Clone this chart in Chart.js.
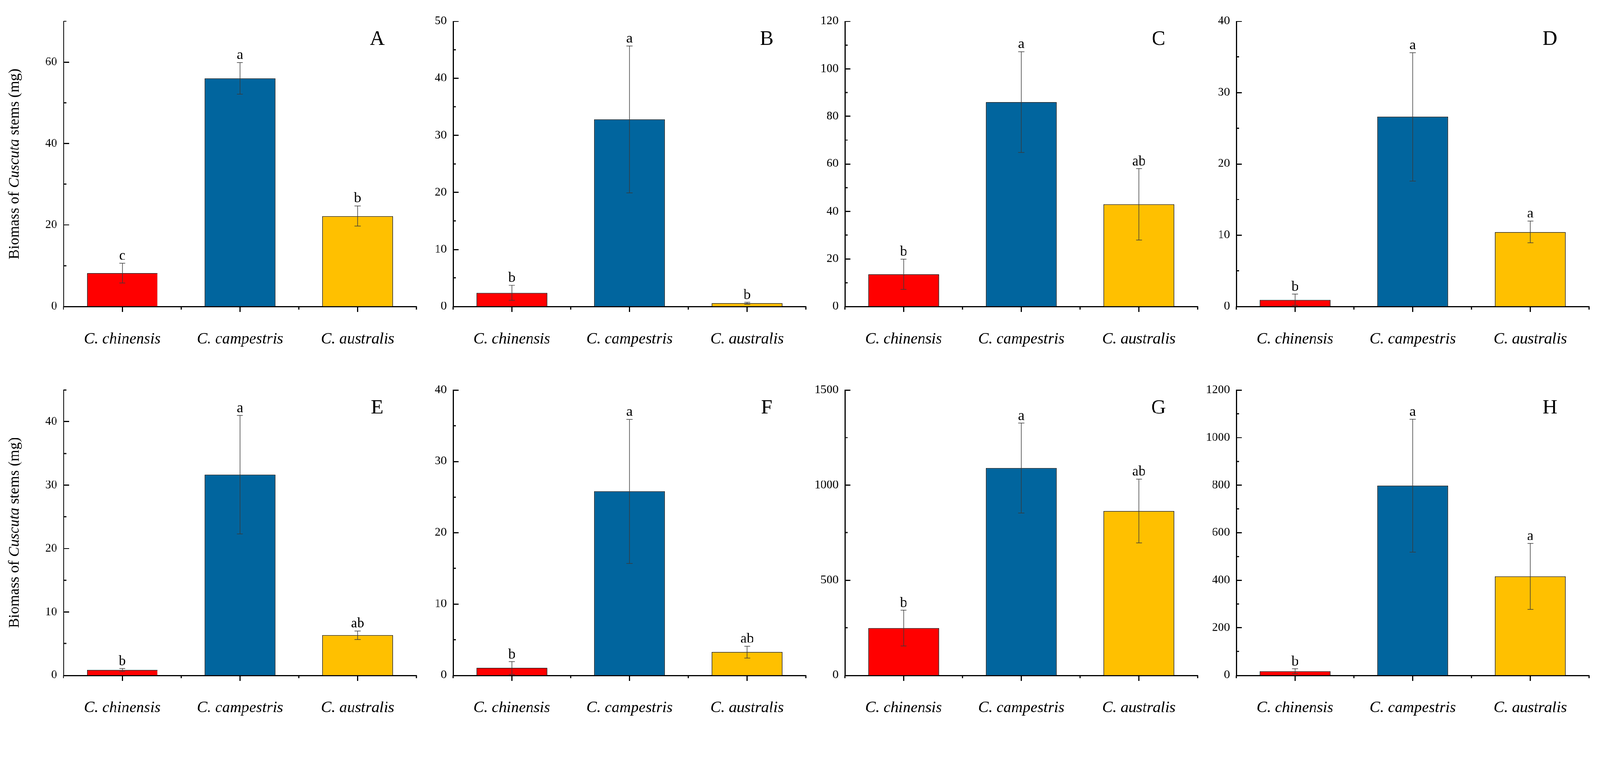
<!DOCTYPE html>
<html>
<head>
<meta charset="utf-8">
<script src="https://cdn.jsdelivr.net/npm/chart.js@4.4.1/dist/chart.umd.min.js"></script>
<style>
  html, body { margin: 0; padding: 0; background: #fff; overflow: hidden; }
  #page { position: absolute; left: 0; top: 0; width: 4284px; height: 1944px; transform-origin: 0 0; background: #fff; }
  canvas { position: absolute; }
</style>
</head>
<body>
<div id="page"></div>
<script>
// Data (biomass of Cuscuta stems, mg)
const species = ['C. chinensis', 'C. campestris', 'C. australis'];
const panelLetters = ['A', 'B', 'C', 'D', 'E', 'F', 'G', 'H'];

const chinensisMean = [8.2, 2.4, 13.6, 0.93, 0.82, 1.02, 248, 17];
const campestrisMean = [56.0, 32.8, 86.0, 26.6, 31.65, 25.8, 1090, 798];
const australisMean = [22.2, 0.55, 43.0, 10.45, 6.32, 3.25, 864, 416];

const chinensisErr = [2.4, 1.3, 6.4, 0.78, 0.22, 0.89, 94, 10];
const campestrisErr = [3.9, 12.9, 21.2, 9.0, 9.35, 10.1, 236, 280];
const australisErr = [2.5, 0.15, 15.0, 1.53, 0.67, 0.82, 168, 139];

const chinensisSig = ['c', 'b', 'b', 'b', 'b', 'b', 'b', 'b'];
const campestrisSig = ['a', 'a', 'a', 'a', 'a', 'a', 'a', 'a'];
const australisSig = ['b', 'b', 'ab', 'a', 'ab', 'ab', 'ab', 'a'];

const yMax = [70, 50, 120, 40, 45, 40, 1500, 1200];
const yMajor = [20, 10, 20, 10, 10, 10, 500, 200];
const yMinor = [10, 5, 10, 5, 5, 5, 250, 100];

const barColors = ['#FF0000', '#01659E', '#FFC000'];

// Layout (in reference pixels)
const colAxisX = [170, 1213, 2262, 3310];
const rowTop = [57, 1045];
const plotH = 764;
const plotW = 945;
const leftW = 170;
const bottomH = 130;

// fit the 4284x1944 page into whatever viewport we get
const page = document.getElementById('page');
const fit = Math.min(window.innerWidth / 4284, window.innerHeight / 1944);
page.style.transform = 'scale(' + fit + ')';

const serif = '"Liberation Serif", "Times New Roman", serif';
Chart.defaults.font.family = serif;
Chart.defaults.color = '#000';

const isMultiple = (v, step) => Math.abs(v / step - Math.round(v / step)) < 1e-6;

// Error bars, letters, minor ticks, panel label, y title
const makeDecor = (i) => ({
    id: 'decor' + i,
    afterDatasetsDraw(chart) {
        const ctx = chart.ctx;
        const y = chart.scales.y;
        const means = [chinensisMean[i], campestrisMean[i], australisMean[i]];
        const errs = [chinensisErr[i], campestrisErr[i], australisErr[i]];
        const sigs = [chinensisSig[i], campestrisSig[i], australisSig[i]];
        const meta = chart.getDatasetMeta(0);

        ctx.save();
        meta.data.forEach((bar, j) => {
            const yTop = y.getPixelForValue(means[j] + errs[j]);
            const yBot = y.getPixelForValue(Math.max(means[j] - errs[j], 0));
            ctx.strokeStyle = '#3a3a3a';
            ctx.lineWidth = 1.5;
            ctx.beginPath();
            ctx.moveTo(bar.x, yTop);
            ctx.lineTo(bar.x, yBot);
            ctx.moveTo(bar.x - 8, yTop);
            ctx.lineTo(bar.x + 8, yTop);
            ctx.moveTo(bar.x - 8, yBot);
            ctx.lineTo(bar.x + 8, yBot);
            ctx.stroke();

            ctx.fillStyle = '#000';
            ctx.font = '38px ' + serif;
            ctx.textAlign = 'center';
            ctx.textBaseline = 'alphabetic';
            ctx.fillText(sigs[j], bar.x, yTop - 9);
        });
        ctx.restore();
    },
    afterDraw(chart) {
        const ctx = chart.ctx;
        const x = chart.scales.x;
        const y = chart.scales.y;
        const area = chart.chartArea;

        ctx.save();
        ctx.strokeStyle = '#000';
        ctx.lineWidth = 3;
        ctx.beginPath();
        // minor y ticks (inward)
        for (let v = yMinor[i]; v <= yMax[i] + 1e-9; v += yMinor[i]) {
            if (isMultiple(v, yMajor[i])) continue;
            const py = y.getPixelForValue(v);
            ctx.moveTo(area.left, py);
            ctx.lineTo(area.left + 8, py);
        }
        // minor x ticks at category boundaries
        const n = species.length;
        for (let k = 0; k <= n; k++) {
            const px = x.left + k * (x.width / n);
            ctx.moveTo(px, area.bottom);
            ctx.lineTo(px, area.bottom + 8);
        }
        ctx.stroke();

        // panel letter
        ctx.fillStyle = '#000';
        ctx.font = '55px ' + serif;
        ctx.textAlign = 'center';
        ctx.textBaseline = 'alphabetic';
        ctx.fillText(panelLetters[i], area.left + 840, area.top + 63);

        // y title on the first column only
        if (i % 4 === 0) {
            const parts = [
                ['Biomass of ', 'normal'],
                ['Cuscuta', 'italic'],
                [' stems (mg)', 'normal']
            ];
            let total = 0;
            parts.forEach(p => {
                ctx.font = p[1] + ' 40px ' + serif;
                total += ctx.measureText(p[0]).width;
            });
            ctx.translate(50, (area.top + area.bottom) / 2);
            ctx.rotate(-Math.PI / 2);
            ctx.textAlign = 'left';
            let pos = -total / 2;
            parts.forEach(p => {
                ctx.font = p[1] + ' 40px ' + serif;
                ctx.fillText(p[0], pos, 0);
                pos += ctx.measureText(p[0]).width;
            });
        }
        ctx.restore();
    }
});

panelLetters.forEach((letter, i) => {
    const col = i % 4;
    const row = Math.floor(i / 4);
    const canvas = document.createElement('canvas');
    const w = leftW + plotW + 15;
    const h = 57 + plotH + bottomH;
    canvas.width = w;
    canvas.height = h;
    canvas.style.left = (colAxisX[col] - leftW) + 'px';
    canvas.style.top = (rowTop[row] - 57) + 'px';
    page.appendChild(canvas);

    new Chart(canvas, {
        type: 'bar',
        data: {
            labels: species,
            datasets: [{
                data: [chinensisMean[i], campestrisMean[i], australisMean[i]],
                backgroundColor: barColors,
                borderColor: '#000',
                borderWidth: 1.5,
                barPercentage: 0.6,
                categoryPercentage: 1.0
            }]
        },
        options: {
            responsive: false,
            animation: false,
            devicePixelRatio: 1,
            layout: { padding: { top: 57, right: 15, bottom: 0, left: 0 } },
            plugins: {
                legend: { display: false },
                tooltip: { enabled: false }
            },
            scales: {
                x: {
                    afterFit: (scale) => { scale.height = bottomH; },
                    border: { color: '#000', width: 3 },
                    grid: {
                        offset: false,
                        drawOnChartArea: false,
                        tickLength: 15,
                        tickWidth: 3,
                        tickColor: '#000'
                    },
                    ticks: {
                        padding: 48,
                        color: '#000',
                        maxRotation: 0,
                        font: { family: serif, size: 42, style: 'italic' }
                    }
                },
                y: {
                    min: 0,
                    max: yMax[i],
                    afterFit: (scale) => { scale.width = leftW; },
                    border: { color: '#000', width: 3 },
                    grid: {
                        drawOnChartArea: false,
                        tickLength: -15,
                        tickWidth: 3,
                        tickColor: (c) => isMultiple(c.tick.value, yMajor[i]) ? '#000' : 'rgba(0,0,0,0)'
                    },
                    ticks: {
                        stepSize: yMinor[i],
                        padding: 32,
                        color: '#000',
                        font: { family: serif, size: 32 },
                        callback: (v) => isMultiple(v, yMajor[i]) ? v : ''
                    }
                }
            }
        },
        plugins: [makeDecor(i)]
    });
});
</script>
</body>
</html>
